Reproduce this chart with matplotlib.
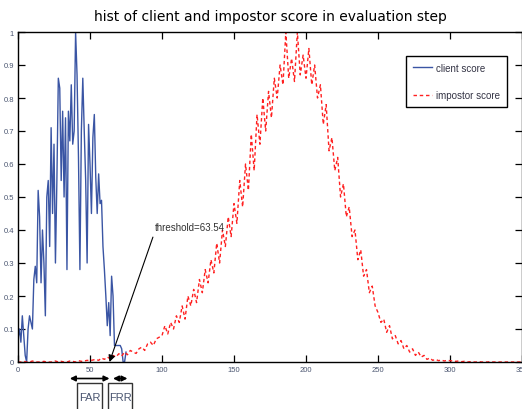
import matplotlib
matplotlib.use("Agg")
import matplotlib.pyplot as plt
from matplotlib.patches import Rectangle

# ---------------- data ----------------
client_x = list(range(0, 76))
client_y = [0.07, 0.10, 0.06, 0.14, 0.08, 0.02, 0.00, 0.10, 0.14, 0.12,
            0.10, 0.25, 0.29, 0.24, 0.52, 0.44, 0.24, 0.40, 0.30, 0.14,
            0.50, 0.55, 0.35, 0.71, 0.45, 0.66, 0.30, 0.55, 0.86, 0.83,
            0.55, 0.76, 0.50, 0.74, 0.28, 0.76, 0.67, 0.84, 0.66, 0.70,
            1.00, 0.87, 0.62, 0.28, 0.70, 0.86, 0.70, 0.55, 0.30, 0.72,
            0.60, 0.45, 0.68, 0.75, 0.56, 0.45, 0.57, 0.48, 0.49, 0.35,
            0.28, 0.20, 0.11, 0.18, 0.08, 0.26, 0.20, 0.05, 0.05, 0.05,
            0.05, 0.05, 0.04, 0.00, 0.00, 0.03]

impostor_x = list(range(0, 352, 2))
impostor_y = [
    # 0-48
    0, 0, 0.002, 0, 0, 0.003, 0, 0, 0, 0.002, 0, 0, 0, 0.003, 0, 0.002, 0, 0,
    0.003, 0.002, 0, 0.004, 0.002, 0.003, 0.005,
    # 50-98
    0.004, 0.006, 0.008, 0.005, 0.012, 0.008, 0.015, 0.010, 0.02, 0.015,
    0.025, 0.018, 0.03, 0.022, 0.035, 0.03, 0.026, 0.04, 0.045, 0.035,
    0.055, 0.06, 0.05, 0.07, 0.075,
    # 100-148
    0.08, 0.11, 0.085, 0.12, 0.10, 0.14, 0.12, 0.17, 0.13, 0.20,
    0.17, 0.22, 0.18, 0.25, 0.21, 0.28, 0.24, 0.31, 0.27, 0.36,
    0.30, 0.40, 0.35, 0.44, 0.38,
    # 150-198
    0.48, 0.42, 0.55, 0.47, 0.60, 0.52, 0.69, 0.58, 0.75, 0.66,
    0.80, 0.70, 0.82, 0.74, 0.86, 0.80, 0.90, 0.84, 1.00, 0.86,
    0.92, 0.85, 1.00, 0.87, 0.93,
    # 200-248
    0.86, 0.95, 0.84, 0.90, 0.80, 0.84, 0.72, 0.78, 0.64, 0.68,
    0.58, 0.62, 0.50, 0.54, 0.44, 0.47, 0.38, 0.40, 0.31, 0.34,
    0.26, 0.28, 0.21, 0.23, 0.17,
    # 250-298
    0.15, 0.12, 0.13, 0.09, 0.11, 0.07, 0.08, 0.055, 0.065, 0.04,
    0.05, 0.03, 0.04, 0.02, 0.03, 0.015, 0.02, 0.008, 0.012, 0.005,
    0.008, 0.004, 0.006, 0.003, 0.005,
    # 300-350
    0.004, 0.003, 0.002, 0.003, 0.001, 0.002, 0, 0.001, 0, 0,
    0.001, 0, 0, 0, 0.001, 0, 0, 0, 0, 0,
    0, 0, 0, 0, 0, 0,
]

threshold = 63.54
title = "hist of client and impostor score in evaluation step"
x_ticks = [0, 50, 100, 150, 200, 250, 300, 350]
y_ticks = [0, 0.1, 0.2, 0.3, 0.4, 0.5, 0.6, 0.7, 0.8, 0.9, 1]
y_ticklabels = ["0", "0.1", "0.2", "0.3", "0.4", "0.5", "0.6", "0.7", "0.8", "0.9", "1"]

small = "Liberation Sans"

# ---------------- figure ----------------
fig = plt.figure(figsize=(5.22, 4.10), dpi=100)
ax = fig.add_axes([18 / 522, 47 / 410, 504 / 522, 330 / 410])

ax.plot(client_x, client_y, color="#3a55a4", lw=1.0, label="client score")
ax.plot(impostor_x, impostor_y, color="#ff2020", lw=1.0, ls=(0, (2.5, 2.0)),
        label="impostor score")

ax.set_xlim(0, 350)
ax.set_ylim(0, 1)
ax.set_xticks(x_ticks)
ax.set_yticks(y_ticks)
ax.set_yticklabels(y_ticklabels)
ax.tick_params(direction="in", top=True, right=True, length=5, width=0.9,
               labelsize=5.5, labelcolor="#4a5570", pad=3)
for lab in ax.get_xticklabels() + ax.get_yticklabels():
    lab.set_family(small)
for s in ax.spines.values():
    s.set_linewidth(1.0)

ax.set_title(title, fontsize=10, family="DejaVu Sans", pad=9)

leg = ax.legend(loc="upper right", bbox_to_anchor=(0.97, 0.927),
                borderaxespad=0, fancybox=False, edgecolor="black",
                framealpha=1, handlelength=1.9, handletextpad=0.45,
                prop={"family": small, "size": 7}, labelspacing=1.75,
                borderpad=0.7)
leg.get_frame().set_linewidth(1.0)
for t in leg.get_texts():
    t.set_color("#333344")

# threshold annotation
ax.annotate("threshold=63.54", xy=(threshold, 0), xytext=(95, 0.41),
            ha="left", va="center", fontsize=7, family=small,
            color="#333333",
            arrowprops=dict(arrowstyle="-|>", color="black", lw=0.8,
                            relpos=(0, 0), shrinkA=2, shrinkB=0,
                            mutation_scale=10))

# FAR / FRR arrows and boxes below the axis
ax.annotate("", xy=(36, -0.05), xytext=(threshold, -0.05),
            annotation_clip=False,
            arrowprops=dict(arrowstyle="<|-|>", color="black", lw=1.2,
                            shrinkA=0, shrinkB=0, mutation_scale=8))
ax.annotate("", xy=(66, -0.05), xytext=(76, -0.05),
            annotation_clip=False,
            arrowprops=dict(arrowstyle="<|-|>", color="black", lw=1.2,
                            shrinkA=0, shrinkB=0, mutation_scale=8))
for x0, x1, lab in [(41, 58.3, "FAR"), (62.5, 79.2, "FRR")]:
    ax.add_patch(Rectangle((x0, -0.2), x1 - x0, 0.135, fill=False,
                           edgecolor="#333333", lw=1.0, clip_on=False))
    ax.text((x0 + x1) / 2, -0.105, lab, ha="center", va="center",
            fontsize=8, family=small, color="#4a5570", clip_on=False)

fig.savefig("out.png", dpi=100)
